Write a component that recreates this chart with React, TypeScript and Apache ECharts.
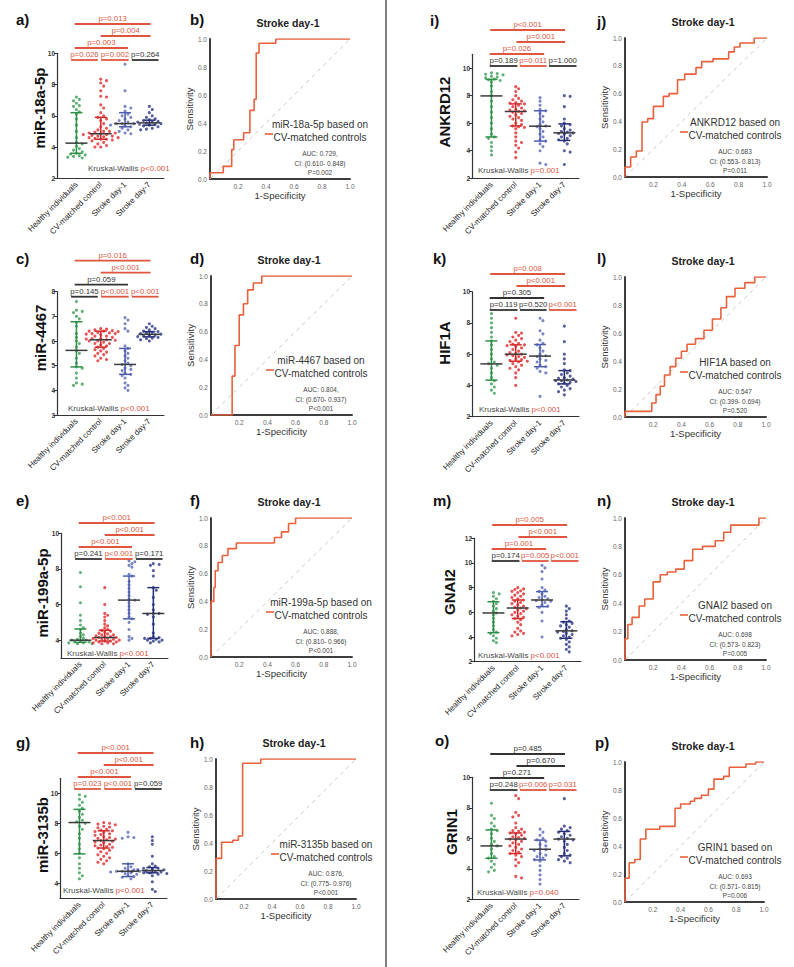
import React, { useEffect, useRef } from "react";
import * as echarts from "echarts";

const FONT = '"Liberation Sans", Arial, Helvetica, sans-serif';

const GROUP_NAMES = ["Healthy individuals", "CV-matched control", "Stroke day-1", "Stroke day-7"];
const DOT_COLORS = ["#3b9b55", "#e2292b", "#5a68b4", "#2c3683"];
const BAR_COLORS = ["#2f8f48", "#d42a2a", "#4d5cad", "#262f7a"];
const MEDIAN_COLOR = "#3b3b3b";
const SIG_RED = "#e0553d";
const NS_DARK = "#333333";
const ROC_RED = "#e8603c";

// Pairwise comparisons, in the order the p-values are listed: (1,2) (2,3) (3,4) (1,3) (2,4) (1,4)
const BRACKET_LEVEL = [0, 0, 0, 1, 2, 3];

// ---------- miR-18a-5p ----------
const mir18aHealthy = [7.2, 7.05, 6.95, 6.8, 6.65, 6.6, 6.4, 6.25, 6.1, 5.8, 5.4, 5.0, 4.6, 4.3, 4.2, 4.05, 3.9, 3.8, 3.7, 3.6, 3.55, 3.5, 3.45, 3.4, 3.35, 3.3];
const mir18aCv = [8.35, 8.25, 8.1, 7.9, 7.6, 7.25, 7.2, 6.7, 6.5, 6.2, 6.0, 5.9, 5.8, 5.7, 5.5, 5.3, 5.2, 5.1, 5.0, 5.0, 4.95, 4.9, 4.9, 4.85, 4.8, 4.8, 4.75, 4.7, 4.7, 4.65, 4.6, 4.6, 4.55, 4.5, 4.5, 4.45, 4.4, 4.3, 4.2, 4.1, 4.0, 4.0];
const mir18aDay1 = [9.3, 7.6, 6.6, 6.5, 6.3, 6.1, 6.0, 5.9, 5.8, 5.7, 5.6, 5.5, 5.5, 5.5, 5.45, 5.4, 5.35, 5.3, 5.2, 5.1, 5.0, 4.9, 4.85];
const mir18aDay7 = [6.6, 6.4, 6.2, 6.0, 5.9, 5.8, 5.75, 5.7, 5.65, 5.6, 5.6, 5.55, 5.5, 5.5, 5.45, 5.4, 5.35, 5.3, 5.2, 5.15, 5.1];
const mir18aMedian = [4.25, 4.85, 5.5, 5.55];
const mir18aQ1 = [3.6, 4.5, 5.3, 5.4];
const mir18aQ3 = [6.2, 5.9, 6.2, 5.72];
const mir18aP = ["p=0.026", "p=0.002", "p=0.264", "p=0.003", "p=0.004", "p=0.013"];
const mir18aKW = "p<0.001";
const mir18aTicks = [2, 4, 6, 8, 10];

// ---------- miR-4467 ----------
const mir4467Healthy = [7.6, 7.25, 7.2, 7.15, 7.0, 6.9, 6.75, 6.6, 6.3, 6.15, 6.0, 5.9, 5.75, 5.6, 5.5, 5.3, 5.1, 4.95, 4.9, 4.7, 4.5, 4.3, 4.25, 4.2];
const mir4467Cv = [6.5, 6.48, 6.45, 6.42, 6.4, 6.4, 6.38, 6.35, 6.33, 6.3, 6.3, 6.28, 6.25, 6.2, 6.2, 6.15, 6.1, 6.1, 6.08, 6.05, 6.03, 6.0, 6.0, 5.95, 5.9, 5.9, 5.85, 5.8, 5.75, 5.7, 5.65, 5.6, 5.55, 5.5, 5.45, 5.4, 5.3, 5.25, 5.2];
const mir4467Day1 = [6.95, 6.85, 6.7, 6.5, 6.4, 5.8, 5.7, 5.6, 5.5, 5.4, 5.3, 5.2, 5.1, 5.05, 5.0, 4.9, 4.85, 4.8, 4.7, 4.65, 4.6, 4.5, 4.3, 4.2, 4.1, 4.0];
const mir4467Day7 = [6.7, 6.6, 6.55, 6.5, 6.45, 6.4, 6.38, 6.35, 6.32, 6.3, 6.28, 6.25, 6.22, 6.2, 6.18, 6.15, 6.12, 6.1, 6.05, 6.0];
const mir4467Median = [5.62, 6.05, 5.05, 6.27];
const mir4467Q1 = [4.95, 5.75, 4.65, 6.17];
const mir4467Q3 = [6.78, 6.4, 5.7, 6.38];
const mir4467P = ["p=0.145", "p<0.001", "p<0.001", "p=0.059", "p<0.001", "p=0.016"];
const mir4467KW = "p<0.001";
const mir4467Ticks = [3, 4, 5, 6, 7, 8];

// ---------- miR-199a-5p ----------
const mir199aHealthy = [7.8, 7.0, 6.1, 5.4, 5.1, 4.85, 4.7, 4.6, 4.4, 4.3, 4.2, 4.1, 4.05, 4.0, 4.0, 3.95, 3.9, 3.9, 3.85, 3.85, 3.8, 3.8];
const mir199aCv = [6.95, 6.0, 5.5, 5.4, 5.3, 5.1, 4.9, 4.8, 4.7, 4.6, 4.55, 4.5, 4.45, 4.4, 4.35, 4.3, 4.3, 4.25, 4.2, 4.2, 4.15, 4.15, 4.1, 4.1, 4.05, 4.05, 4.0, 4.0, 3.95, 3.95, 3.9, 3.9, 3.85, 3.85, 3.8, 3.8];
const mir199aDay1 = [8.45, 8.4, 8.3, 8.2, 8.1, 7.7, 7.6, 7.3, 7.1, 6.9, 6.7, 6.5, 6.3, 6.25, 6.1, 5.9, 5.7, 5.5, 5.3, 5.2, 5.0, 4.6, 4.2, 4.1, 4.0];
const mir199aDay7 = [8.3, 8.25, 8.2, 7.9, 7.6, 6.95, 6.8, 6.4, 6.0, 5.7, 5.5, 5.5, 5.45, 5.3, 4.9, 4.4, 4.2, 4.15, 4.1, 4.1, 4.05, 4.0, 4.0, 3.95, 3.9, 3.85];
const mir199aMedian = [4.0, 4.15, 6.25, 5.5];
const mir199aQ1 = [3.88, 3.95, 5.2, 4.1];
const mir199aQ3 = [4.63, 4.56, 7.6, 6.95];
const mir199aP = ["p=0.241", "p<0.001", "p=0.171", "p<0.001", "p<0.001", "p<0.001"];
const mir199aKW = "p<0.001";
const mir199aTicks = [4, 6, 8, 10];

// ---------- miR-3135b ----------
const mir3135bHealthy = [9.9, 9.8, 9.6, 9.4, 9.2, 9.0, 8.8, 8.6, 8.4, 8.2, 8.1, 8.0, 7.8, 7.6, 7.3, 7.0, 6.6, 6.3, 6.0, 5.7, 5.3, 5.0, 4.7, 4.5, 4.3];
const mir3135bCv = [8.05, 8.0, 7.95, 7.9, 7.8, 7.75, 7.7, 7.6, 7.55, 7.5, 7.45, 7.4, 7.3, 7.25, 7.2, 7.1, 7.05, 7.0, 6.95, 6.9, 6.85, 6.8, 6.75, 6.7, 6.6, 6.55, 6.5, 6.45, 6.4, 6.35, 6.3, 6.2, 6.1, 6.0, 5.9, 5.8, 5.7, 5.6, 5.5, 5.4, 5.3];
const mir3135bDay1 = [7.4, 7.1, 7.05, 7.0, 5.3, 5.1, 5.0, 4.9, 4.85, 4.8, 4.8, 4.8, 4.75, 4.75, 4.7, 4.7, 4.65, 4.6, 4.5, 4.45, 4.4, 4.3];
const mir3135bDay7 = [7.1, 6.85, 6.6, 5.8, 5.3, 5.15, 5.1, 5.0, 5.0, 4.95, 4.9, 4.9, 4.85, 4.85, 4.8, 4.8, 4.75, 4.7, 4.7, 4.65, 4.6, 4.5, 4.1, 3.6, 3.45];
const mir3135bMedian = [8.05, 6.85, 4.8, 4.85];
const mir3135bQ1 = [5.96, 6.35, 4.45, 4.7];
const mir3135bQ3 = [8.93, 7.5, 5.3, 5.05];
const mir3135bP = ["p=0.023", "p<0.001", "p=0.059", "p<0.001", "p<0.001", "p<0.001"];
const mir3135bKW = "p<0.001";
const mir3135bTicks = [4, 6, 8, 10];

// ---------- ANKRD12 ----------
const ankrd12Healthy = [9.65, 9.6, 9.55, 9.5, 9.4, 9.35, 9.3, 9.2, 9.15, 9.1, 9.0, 8.7, 8.3, 8.0, 7.6, 7.2, 6.8, 6.4, 6.0, 5.6, 5.2, 5.0, 4.9, 4.6, 4.3, 4.0, 3.7];
const ankrd12Cv = [8.65, 8.5, 8.3, 8.0, 7.8, 7.7, 7.6, 7.5, 7.45, 7.4, 7.3, 7.2, 7.1, 7.0, 6.95, 6.9, 6.85, 6.8, 6.7, 6.6, 6.5, 6.4, 6.3, 6.2, 6.0, 5.9, 5.8, 5.75, 5.7, 5.6, 5.3, 5.0, 4.7, 4.6, 4.4, 4.2, 3.9, 3.5];
const ankrd12Day1 = [7.85, 7.6, 7.3, 7.0, 6.9, 6.7, 6.5, 6.3, 6.1, 5.9, 5.8, 5.75, 5.6, 5.4, 5.2, 5.0, 4.8, 4.7, 4.5, 4.3, 4.0, 3.1, 3.0];
const ankrd12Day7 = [8.0, 7.95, 7.2, 6.3, 6.0, 5.9, 5.8, 5.6, 5.5, 5.4, 5.35, 5.3, 5.25, 5.2, 5.1, 5.0, 4.9, 4.8, 4.7, 4.5, 4.0, 3.9, 3.0];
const ankrd12Median = [7.98, 6.85, 5.78, 5.3];
const ankrd12Q1 = [5.0, 5.8, 4.7, 4.75];
const ankrd12Q3 = [9.18, 7.4, 6.9, 5.95];
const ankrd12P = ["p=0.189", "p=0.011", "p=1.000", "p=0.026", "p=0.001", "p<0.001"];
const ankrd12KW = "p=0.001";
const ankrd12Ticks = [2, 4, 6, 8, 10];

// ---------- HIF1A ----------
const hif1aHealthy = [8.6, 8.3, 8.0, 7.7, 7.4, 7.1, 6.85, 6.6, 6.3, 6.0, 5.7, 5.5, 5.4, 5.3, 5.1, 4.8, 4.5, 4.3, 4.1, 3.9, 3.7, 3.5];
const hif1aCv = [8.3, 7.4, 7.35, 7.2, 7.1, 7.0, 6.9, 6.8, 6.7, 6.65, 6.6, 6.55, 6.5, 6.4, 6.3, 6.2, 6.1, 6.05, 6.0, 5.95, 5.9, 5.85, 5.8, 5.7, 5.65, 5.6, 5.55, 5.5, 5.4, 5.3, 5.2, 5.1, 5.0, 4.8, 4.5, 4.0];
const hif1aDay1 = [8.3, 8.15, 7.5, 7.3, 6.9, 6.7, 6.6, 6.4, 6.2, 6.0, 5.9, 5.85, 5.7, 5.6, 5.5, 5.3, 5.2, 5.1, 4.9, 4.8, 3.3];
const hif1aDay7 = [7.8, 6.8, 6.0, 5.7, 5.4, 5.0, 4.95, 4.8, 4.7, 4.6, 4.5, 4.45, 4.4, 4.35, 4.3, 4.3, 4.25, 4.2, 4.15, 4.1, 4.0, 3.9, 3.8, 3.7, 3.6, 3.4];
const hif1aMedian = [5.38, 6.0, 5.88, 4.35];
const hif1aQ1 = [4.34, 5.55, 5.2, 4.1];
const hif1aQ3 = [6.85, 6.6, 6.62, 4.95];
const hif1aP = ["p=0.119", "p=0.520", "p<0.001", "p=0.305", "p<0.001", "p=0.008"];
const hif1aKW = "p<0.001";
const hif1aTicks = [2, 4, 6, 8, 10];

// ---------- GNAI2 ----------
const gnai2Healthy = [7.6, 7.5, 7.3, 7.1, 6.9, 6.7, 6.5, 6.3, 6.1, 5.95, 5.8, 5.5, 5.2, 4.9, 4.6, 4.4, 4.3, 4.1, 3.9, 3.7, 3.55];
const gnai2Cv = [8.0, 7.9, 7.85, 7.75, 7.7, 7.6, 7.5, 7.4, 7.3, 7.2, 7.1, 7.0, 6.9, 6.8, 6.7, 6.6, 6.5, 6.4, 6.35, 6.3, 6.2, 6.1, 6.0, 5.9, 5.8, 5.7, 5.6, 5.5, 5.4, 5.2, 5.0, 4.7, 4.5, 4.4, 4.3, 4.2, 4.1];
const gnai2Day1 = [9.8, 9.6, 9.3, 8.7, 8.0, 7.8, 7.7, 7.5, 7.3, 7.2, 7.1, 7.0, 6.95, 6.9, 6.8, 6.6, 6.5, 6.4, 6.0, 5.3, 4.0];
const gnai2Day7 = [6.5, 6.3, 6.1, 5.8, 5.5, 5.3, 5.2, 5.1, 5.0, 4.9, 4.8, 4.6, 4.5, 4.45, 4.4, 4.3, 4.2, 4.1, 4.0, 3.9, 3.8, 3.6, 3.4, 3.2, 3.0, 2.8];
const gnai2Median = [5.95, 6.35, 7.0, 4.5];
const gnai2Q1 = [4.35, 5.5, 6.46, 3.9];
const gnai2Q3 = [6.86, 7.0, 7.68, 5.24];
const gnai2P = ["p=0.174", "p=0.005", "p<0.001", "p=0.001", "p<0.001", "p=0.005"];
const gnai2KW = "p<0.001";
const gnai2Ticks = [2, 4, 6, 8, 10, 12];

// ---------- GRIN1 ----------
const grin1Healthy = [8.3, 7.5, 7.3, 7.0, 6.8, 6.6, 6.5, 6.3, 6.0, 5.8, 5.6, 5.5, 5.3, 5.0, 4.8, 4.7, 4.5, 4.3, 4.1, 3.9, 3.8];
const grin1Cv = [8.8, 8.6, 7.7, 7.5, 7.4, 7.0, 6.7, 6.6, 6.5, 6.45, 6.4, 6.35, 6.3, 6.2, 6.1, 6.05, 6.0, 5.95, 5.9, 5.8, 5.7, 5.6, 5.5, 5.4, 5.3, 5.2, 5.1, 5.0, 4.9, 4.8, 4.6, 4.4, 4.2, 3.5, 3.4];
const grin1Day1 = [6.6, 6.4, 6.2, 6.0, 5.9, 5.8, 5.6, 5.5, 5.3, 5.25, 5.2, 5.0, 4.9, 4.8, 4.7, 4.6, 4.5, 4.2, 3.9, 3.6, 3.3, 3.0];
const grin1Day7 = [8.6, 6.8, 6.7, 6.6, 6.5, 6.4, 6.3, 6.2, 6.1, 6.0, 5.95, 5.9, 5.8, 5.6, 5.4, 5.2, 5.0, 4.9, 4.8, 4.7, 4.6, 4.5, 4.4];
const grin1Median = [5.5, 5.95, 5.28, 5.95];
const grin1Q1 = [4.69, 5.0, 4.58, 4.85];
const grin1Q3 = [6.55, 6.35, 5.88, 6.45];
const grin1P = ["p=0.248", "p=0.006", "p=0.031", "p=0.271", "p=0.670", "p=0.485"];
const grin1KW = "p=0.040";
const grin1Ticks = [2, 4, 6, 8, 10];

// ---------- ROC curves, Stroke day-1 vs CV-matched controls (corner points) ----------
const rocMir18aFpr = [0, 0, 0.095, 0.095, 0.155, 0.155, 0.17, 0.17, 0.24, 0.24, 0.285, 0.285, 0.315, 0.315, 0.33, 0.33, 0.35, 0.35, 0.47, 0.47, 1];
const rocMir18aTpr = [0, 0.045, 0.045, 0.09, 0.09, 0.21, 0.21, 0.28, 0.28, 0.33, 0.33, 0.49, 0.49, 0.57, 0.57, 0.9, 0.9, 0.97, 0.97, 1, 1];
const rocMir4467Fpr = [0, 0.15, 0.15, 0.17, 0.17, 0.2, 0.2, 0.23, 0.23, 0.26, 0.26, 0.3, 0.3, 0.36, 0.36, 1];
const rocMir4467Tpr = [0, 0, 0.28, 0.28, 0.5, 0.5, 0.72, 0.72, 0.8, 0.8, 0.9, 0.9, 0.95, 0.95, 1, 1];
const rocMir199aFpr = [0, 0, 0.02, 0.02, 0.03, 0.03, 0.05, 0.05, 0.08, 0.08, 0.12, 0.12, 0.18, 0.18, 0.45, 0.45, 0.5, 0.5, 0.55, 0.55, 0.6, 0.6, 1];
const rocMir199aTpr = [0, 0.4, 0.4, 0.5, 0.5, 0.62, 0.62, 0.68, 0.68, 0.73, 0.73, 0.78, 0.78, 0.82, 0.82, 0.86, 0.86, 0.9, 0.9, 0.96, 0.96, 1, 1];
const rocMir3135bFpr = [0, 0, 0.04, 0.04, 0.12, 0.12, 0.16, 0.16, 0.19, 0.19, 0.32, 0.32, 1];
const rocMir3135bTpr = [0, 0.29, 0.29, 0.405, 0.405, 0.42, 0.42, 0.45, 0.45, 0.97, 0.97, 1, 1];
const rocAnkrd12Fpr = [0, 0, 0.04, 0.04, 0.08, 0.08, 0.12, 0.12, 0.16, 0.16, 0.2, 0.2, 0.27, 0.27, 0.31, 0.31, 0.37, 0.37, 0.42, 0.42, 0.5, 0.5, 0.54, 0.54, 0.62, 0.62, 0.73, 0.73, 0.77, 0.77, 0.81, 0.81, 0.91, 0.91, 1];
const rocAnkrd12Tpr = [0, 0.072, 0.072, 0.144, 0.144, 0.187, 0.187, 0.396, 0.396, 0.42, 0.42, 0.508, 0.508, 0.58, 0.58, 0.6, 0.6, 0.7, 0.7, 0.74, 0.74, 0.787, 0.787, 0.83, 0.83, 0.85, 0.85, 0.9, 0.9, 0.935, 0.935, 0.964, 0.964, 1, 1];
const rocHif1aFpr = [0, 0, 0.19, 0.19, 0.22, 0.22, 0.25, 0.25, 0.28, 0.28, 0.32, 0.32, 0.36, 0.36, 0.4, 0.4, 0.44, 0.44, 0.5, 0.5, 0.56, 0.56, 0.62, 0.62, 0.68, 0.68, 0.72, 0.72, 0.78, 0.78, 0.85, 0.85, 0.92, 0.92, 1];
const rocHif1aTpr = [0, 0.04, 0.04, 0.1, 0.1, 0.16, 0.16, 0.22, 0.22, 0.3, 0.3, 0.36, 0.36, 0.42, 0.42, 0.47, 0.47, 0.52, 0.52, 0.56, 0.56, 0.62, 0.62, 0.7, 0.7, 0.78, 0.78, 0.86, 0.86, 0.92, 0.92, 0.96, 0.96, 1, 1];
const rocGnai2Fpr = [0, 0, 0.02, 0.02, 0.05, 0.05, 0.1, 0.1, 0.14, 0.14, 0.2, 0.2, 0.25, 0.25, 0.3, 0.3, 0.36, 0.36, 0.42, 0.42, 0.48, 0.48, 0.55, 0.55, 0.64, 0.64, 0.7, 0.7, 0.75, 0.75, 0.95, 0.95, 1];
const rocGnai2Tpr = [0, 0.15, 0.15, 0.25, 0.25, 0.3, 0.3, 0.38, 0.38, 0.43, 0.43, 0.55, 0.55, 0.6, 0.6, 0.62, 0.62, 0.64, 0.64, 0.7, 0.7, 0.78, 0.78, 0.8, 0.8, 0.84, 0.84, 0.9, 0.9, 0.95, 0.95, 1, 1];
const rocGrin1Fpr = [0, 0, 0.03, 0.03, 0.07, 0.07, 0.11, 0.11, 0.15, 0.15, 0.25, 0.25, 0.36, 0.36, 0.4, 0.4, 0.47, 0.47, 0.5, 0.5, 0.55, 0.55, 0.6, 0.6, 0.64, 0.64, 0.71, 0.71, 0.75, 0.75, 0.87, 0.87, 0.94, 0.94, 1];
const rocGrin1Tpr = [0, 0.17, 0.17, 0.28, 0.28, 0.304, 0.304, 0.45, 0.45, 0.52, 0.52, 0.54, 0.54, 0.67, 0.67, 0.7, 0.7, 0.72, 0.72, 0.74, 0.74, 0.763, 0.763, 0.806, 0.806, 0.878, 0.878, 0.897, 0.897, 0.962, 0.962, 0.986, 0.986, 1, 1];

const ROC_TICKS = [0, 0.2, 0.4, 0.6, 0.8, 1.0];

// ---------- layout ----------
const X_MIN = 0.2;
const X_MAX = 4.6;
const CAT_PX = 24.3;
// bracket spans (category units) for left-column and right-column dot plots
const LEFT_SPANS = [[0.78, 1.88], [2.02, 3.15], [3.28, 4.38], [0.93, 3.12], [2.0, 4.05], [0.93, 4.05]];
const RIGHT_SPANS = [[0.93, 2.07], [2.17, 3.27], [3.37, 4.5], [0.93, 3.17], [2.03, 4.03], [0.95, 4.03]];

type DotPanel = {
  letter: string; lx: number; ly: number;
  gene: string; nx: number; ny: number;
  groups: number[][]; median: number[]; q1: number[]; q3: number[];
  p: string[]; kw: string; ticks: number[];
  yMin: number; yMax: number;
  left: number; top: number; bottom: number;
  spans: number[][]; bracketBase: number; kwDx: number; kwDy: number;
};

const DOT_PANELS: DotPanel[] = [
  { letter: "a)", lx: 16, ly: 19, gene: "miR-18a-5p", nx: 39, ny: 108,
    groups: [mir18aHealthy, mir18aCv, mir18aDay1, mir18aDay7], median: mir18aMedian, q1: mir18aQ1, q3: mir18aQ3,
    p: mir18aP, kw: mir18aKW, ticks: mir18aTicks, yMin: 2, yMax: 10,
    left: 57, top: 53.3, bottom: 178.3, spans: LEFT_SPANS, bracketBase: 6.7, kwDx: 31, kwDy: -10 },
  { letter: "c)", lx: 16, ly: 258, gene: "miR-4467", nx: 40, ny: 338,
    groups: [mir4467Healthy, mir4467Cv, mir4467Day1, mir4467Day7], median: mir4467Median, q1: mir4467Q1, q3: mir4467Q3,
    p: mir4467P, kw: mir4467KW, ticks: mir4467Ticks, yMin: 3, yMax: 8,
    left: 57, top: 291.7, bottom: 415, spans: LEFT_SPANS, bracketBase: 5, kwDx: 11, kwDy: -7 },
  { letter: "e)", lx: 16, ly: 500, gene: "miR-199a-5p", nx: 42, ny: 593,
    groups: [mir199aHealthy, mir199aCv, mir199aDay1, mir199aDay7], median: mir199aMedian, q1: mir199aQ1, q3: mir199aQ3,
    p: mir199aP, kw: mir199aKW, ticks: mir199aTicks, yMin: 3, yMax: 10,
    left: 61, top: 533.3, bottom: 658, spans: LEFT_SPANS, bracketBase: 25.7, kwDx: 6, kwDy: -5 },
  { letter: "g)", lx: 16, ly: 742, gene: "miR-3135b", nx: 42, ny: 835,
    groups: [mir3135bHealthy, mir3135bCv, mir3135bDay1, mir3135bDay7], median: mir3135bMedian, q1: mir3135bQ1, q3: mir3135bQ3,
    p: mir3135bP, kw: mir3135bKW, ticks: mir3135bTicks, yMin: 3, yMax: 11,
    left: 60, top: 778.3, bottom: 898.3, spans: LEFT_SPANS, bracketBase: 10.7, kwDx: 3, kwDy: -7.5 },
  { letter: "i)", lx: 430, ly: 20, gene: "ANKRD12", nx: 444, ny: 112,
    groups: [ankrd12Healthy, ankrd12Cv, ankrd12Day1, ankrd12Day7], median: ankrd12Median, q1: ankrd12Q1, q3: ankrd12Q3,
    p: ankrd12P, kw: ankrd12KW, ticks: ankrd12Ticks, yMin: 2, yMax: 11,
    left: 472, top: 54.3, bottom: 178.3, spans: RIGHT_SPANS, bracketBase: 11.7, kwDx: 6, kwDy: -7.5 },
  { letter: "k)", lx: 433, ly: 258, gene: "HIF1A", nx: 444, ny: 343,
    groups: [hif1aHealthy, hif1aCv, hif1aDay1, hif1aDay7], median: hif1aMedian, q1: hif1aQ1, q3: hif1aQ3,
    p: hif1aP, kw: hif1aKW, ticks: hif1aTicks, yMin: 2, yMax: 10,
    left: 472, top: 291.7, bottom: 416.7, spans: RIGHT_SPANS, bracketBase: 18.3, kwDx: 7, kwDy: -7.5 },
  { letter: "m)", lx: 433, ly: 500, gene: "GNAI2", nx: 449, ny: 592,
    groups: [gnai2Healthy, gnai2Cv, gnai2Day1, gnai2Day7], median: gnai2Median, q1: gnai2Q1, q3: gnai2Q3,
    p: gnai2P, kw: gnai2KW, ticks: gnai2Ticks, yMin: 2, yMax: 12,
    left: 474, top: 538.3, bottom: 661.7, spans: RIGHT_SPANS, bracketBase: 22.7, kwDx: 4, kwDy: -6 },
  { letter: "o)", lx: 435, ly: 740, gene: "GRIN1", nx: 451, ny: 832,
    groups: [grin1Healthy, grin1Cv, grin1Day1, grin1Day7], median: grin1Median, q1: grin1Q1, q3: grin1Q3,
    p: grin1P, kw: grin1KW, ticks: grin1Ticks, yMin: 2, yMax: 10,
    left: 472, top: 777.3, bottom: 899.3, spans: RIGHT_SPANS, bracketBase: 12.7, kwDx: 5, kwDy: -6.5 },
];

type RocPanel = {
  letter: string; lx: number; ly: number; gene: string;
  fpr: number[]; tpr: number[]; auc: string[];
  left: number; top: number; width: number; height: number;
};

const ROC_PANELS: RocPanel[] = [
  { letter: "b)", lx: 190, ly: 19, gene: "miR-18a-5p", fpr: rocMir18aFpr, tpr: rocMir18aTpr,
    auc: ["AUC: 0.729,", "CI: (0.610- 0.848)", "P=0.002"], left: 210, top: 39, width: 140, height: 140 },
  { letter: "d)", lx: 190, ly: 258, gene: "miR-4467", fpr: rocMir4467Fpr, tpr: rocMir4467Tpr,
    auc: ["AUC: 0.804,", "CI: (0.670- 0.937)", "P<0.001"], left: 211, top: 276, width: 141, height: 139 },
  { letter: "f)", lx: 190, ly: 500, gene: "miR-199a-5p", fpr: rocMir199aFpr, tpr: rocMir199aTpr,
    auc: ["AUC: 0.888,", "CI: (0.810- 0.966)", "P<0.001"], left: 211, top: 518, width: 141, height: 139 },
  { letter: "h)", lx: 190, ly: 742, gene: "miR-3135b", fpr: rocMir3135bFpr, tpr: rocMir3135bTpr,
    auc: ["AUC: 0.876,", "CI: (0.775- 0.976)", "P<0.001"], left: 216, top: 759, width: 140, height: 140 },
  { letter: "j)", lx: 597, ly: 21, gene: "ANKRD12", fpr: rocAnkrd12Fpr, tpr: rocAnkrd12Tpr,
    auc: ["AUC: 0.683", "CI: (0.553- 0.813)", "P=0.011"], left: 625, top: 38, width: 142, height: 139 },
  { letter: "l)", lx: 597, ly: 258, gene: "HIF1A", fpr: rocHif1aFpr, tpr: rocHif1aTpr,
    auc: ["AUC: 0.547", "CI: (0.399- 0.694)", "P=0.520"], left: 625, top: 277, width: 141, height: 140 },
  { letter: "n)", lx: 597, ly: 500, gene: "GNAI2", fpr: rocGnai2Fpr, tpr: rocGnai2Tpr,
    auc: ["AUC: 0.698", "CI: (0.573- 0.823)", "P=0.005"], left: 625, top: 518, width: 141, height: 142 },
  { letter: "p)", lx: 595, ly: 742, gene: "GRIN1", fpr: rocGrin1Fpr, tpr: rocGrin1Tpr,
    auc: ["AUC: 0.693", "CI: (0.571- 0.815)", "P=0.006"], left: 625, top: 762, width: 139, height: 140 },
];

const isSignificant = (p: string) => parseFloat(p.replace(/^p[<=]/i, "")) < 0.05;

// Non-overlapping horizontal placement of dots around their category centre
function swarmOffsets(values: number[], pxPerY: number, pxPerX: number): number[] {
  const dist = 3.4;
  const step = 2.9;
  const order = values.map((_, i) => i).sort((a, b) => values[b] - values[a]);
  const placed: { x: number; y: number }[] = [];
  const out = new Array(values.length).fill(0);
  for (const i of order) {
    const y = values[i] * pxPerY;
    let chosen = 0;
    for (let k = 0; k < 60; k++) {
      const cand = k === 0 ? 0 : (k % 2 ? 1 : -1) * Math.ceil(k / 2) * step;
      if (placed.every((q) => Math.hypot(q.x - cand, q.y - y) >= dist)) {
        chosen = cand;
        break;
      }
    }
    placed.push({ x: chosen, y });
    out[i] = chosen / pxPerX;
  }
  return out;
}

function textEl(x: number, y: number, text: string, font: string, fill: string, align = "left", vAlign = "middle", rotation = 0) {
  return {
    type: "text", x, y, rotation, silent: true,
    style: { text, font, fill, textAlign: align, align, textVerticalAlign: vAlign, verticalAlign: vAlign },
  };
}

function buildOption() {
  const grid: any[] = [];
  const xAxis: any[] = [];
  const yAxis: any[] = [];
  const series: any[] = [];
  const elements: any[] = [];

  elements.push({ type: "line", silent: true, shape: { x1: 386, y1: 0, x2: 386, y2: 967 }, style: { stroke: "#555", lineWidth: 1.5 } });

  DOT_PANELS.forEach((p, k) => {
    const width = (X_MAX - X_MIN) * CAT_PX;
    const height = p.bottom - p.top;
    grid.push({ left: p.left, top: p.top, width, height });
    xAxis.push({
      type: "value", gridIndex: k, min: X_MIN, max: X_MAX,
      axisLine: { show: true, lineStyle: { color: "#333", width: 1.2 } },
      axisTick: { show: false }, splitLine: { show: false },
      axisLabel: {
        customValues: [1, 2, 3, 4], formatter: (v: number) => GROUP_NAMES[Math.round(v) - 1] || "",
        rotate: 45, fontSize: 8, color: "#222", margin: 5, fontFamily: FONT,
      },
    });
    yAxis.push({
      type: "value", gridIndex: k, min: p.yMin, max: p.yMax,
      axisLine: { show: true, lineStyle: { color: "#333", width: 1.2 } },
      axisTick: { show: true, customValues: p.ticks, length: 3, lineStyle: { color: "#333", width: 1 } },
      axisLabel: { customValues: p.ticks, fontSize: 6.5, fontWeight: "bold", color: "#333", margin: 2, fontFamily: FONT },
      splitLine: { show: false },
    });

    const pxPerY = height / (p.yMax - p.yMin);
    p.groups.forEach((vals, g) => {
      const offs = swarmOffsets(vals, pxPerY, CAT_PX);
      series.push({
        type: "scatter", xAxisIndex: k, yAxisIndex: k, symbol: "circle", symbolSize: 3.1, z: 2,
        itemStyle: { color: DOT_COLORS[g] }, silent: true,
        data: vals.map((v, i) => [g + 1 + offs[i], v]),
      });
    });

    // median with interquartile range
    series.push({
      type: "custom", xAxisIndex: k, yAxisIndex: k, z: 5, silent: true, clip: false,
      data: p.median.map((m, g) => [g + 1, m, p.q1[g], p.q3[g], g]),
      renderItem: (_params: any, api: any) => {
        const g = api.value(4);
        const pm = api.coord([api.value(0), api.value(1)]);
        const pl = api.coord([api.value(0), api.value(2)]);
        const ph = api.coord([api.value(0), api.value(3)]);
        const c = BAR_COLORS[g];
        const x = pm[0];
        return {
          type: "group",
          children: [
            { type: "line", shape: { x1: x, y1: pl[1], x2: x, y2: ph[1] }, style: { stroke: c, lineWidth: 1.5 } },
            { type: "line", shape: { x1: x - 6, y1: pl[1], x2: x + 6, y2: pl[1] }, style: { stroke: c, lineWidth: 1.5 } },
            { type: "line", shape: { x1: x - 6, y1: ph[1], x2: x + 6, y2: ph[1] }, style: { stroke: c, lineWidth: 1.5 } },
            { type: "line", shape: { x1: x - 11, y1: pm[1], x2: x + 11, y2: pm[1] }, style: { stroke: MEDIAN_COLOR, lineWidth: 1.5 } },
          ],
        };
      },
    });

    // pairwise comparison bars with p-values
    series.push({
      type: "custom", xAxisIndex: k, yAxisIndex: k, z: 6, silent: true, clip: false,
      data: p.spans.map((s, i) => [s[0], s[1], 0, i]),
      renderItem: (_params: any, api: any) => {
        const i = api.value(3);
        const a = api.coord([api.value(0), p.yMax]);
        const b = api.coord([api.value(1), p.yMax]);
        const y = a[1] + p.bracketBase - BRACKET_LEVEL[i] * 12;
        const txt = p.p[i];
        const col = isSignificant(txt) ? SIG_RED : NS_DARK;
        return {
          type: "group",
          children: [
            { type: "line", shape: { x1: a[0], y1: y, x2: b[0], y2: y }, style: { stroke: col, lineWidth: 1.8 } },
            {
              type: "text", x: (a[0] + b[0]) / 2, y: y - 1.5,
              style: { text: txt, fill: col, font: `7.8px ${FONT}`, textAlign: "center", align: "center", textVerticalAlign: "bottom", verticalAlign: "bottom" },
            },
          ],
        };
      },
    });

    elements.push(textEl(p.lx, p.ly, p.letter, `bold 15px ${FONT}`, "#111"));
    elements.push(textEl(p.nx, p.ny, p.gene, `bold 15px ${FONT}`, "#111", "center", "middle", Math.PI / 2));
    elements.push({
      type: "text", x: p.left + p.kwDx, y: p.bottom + p.kwDy, silent: true,
      style: {
        text: `{k|Kruskal-Wallis }{v|${p.kw}}`,
        textAlign: "left", align: "left", textVerticalAlign: "middle", verticalAlign: "middle",
        rich: {
          k: { fill: "#4a4a4a", fontSize: 8, fontFamily: FONT },
          v: { fill: isSignificant(p.kw) ? SIG_RED : NS_DARK, fontSize: 8, fontFamily: FONT },
        },
      },
    });
  });

  ROC_PANELS.forEach((r, j) => {
    const k = DOT_PANELS.length + j;
    grid.push({ left: r.left, top: r.top, width: r.width, height: r.height });
    const axisCommon = {
      type: "value", gridIndex: k, min: 0, max: 1,
      axisLine: { show: true, lineStyle: { color: "#3d3d3d", width: 2 } },
      axisTick: { show: false }, splitLine: { show: false },
      nameLocation: "middle",
      nameTextStyle: { fontSize: 9.5, color: "#333", fontFamily: FONT },
    };
    xAxis.push({
      ...axisCommon, name: "1-Specificity", nameGap: 11,
      axisLabel: { customValues: ROC_TICKS, formatter: (v: number) => (v === 0 ? "" : v.toFixed(1)), fontSize: 6.5, color: "#666", margin: 4, fontFamily: FONT },
    });
    yAxis.push({
      ...axisCommon, name: "Sensitivity", nameGap: 13,
      axisLabel: { customValues: ROC_TICKS, formatter: (v: number) => v.toFixed(1), fontSize: 6.5, color: "#666", margin: 3, fontFamily: FONT },
    });
    series.push({
      type: "line", xAxisIndex: k, yAxisIndex: k, silent: true, showSymbol: false, z: 2,
      lineStyle: { color: "#c9c9c9", width: 1, type: [4, 4] },
      data: [[0, 0], [1, 1]],
    });
    series.push({
      type: "line", xAxisIndex: k, yAxisIndex: k, silent: true, showSymbol: false, z: 3,
      lineStyle: { color: ROC_RED, width: 1.6 },
      data: r.fpr.map((x, i) => [x, r.tpr[i]]),
    });

    const bottom = r.top + r.height;
    const cx = r.left + 110;
    elements.push(textEl(r.lx, r.ly, r.letter, `bold 15px ${FONT}`, "#111"));
    elements.push(textEl(r.left + 78, r.top - 15.7, "Stroke day-1", `bold 10.5px ${FONT}`, "#222", "center"));
    elements.push({ type: "line", silent: true, shape: { x1: r.left + 55, y1: bottom - 45, x2: r.left + 63, y2: bottom - 45 }, style: { stroke: ROC_RED, lineWidth: 1.6 } });
    elements.push(textEl(cx, bottom - 55, `${r.gene} based on`, `10px ${FONT}`, "#333", "center"));
    elements.push(textEl(cx, bottom - 41.5, "CV-matched controls", `10px ${FONT}`, "#333", "center"));
    r.auc.forEach((t, i) => {
      elements.push(textEl(cx, bottom - 25.5 + i * 9.5, t, `6.5px ${FONT}`, "#444", "center"));
    });
  });

  return {
    animation: false,
    backgroundColor: "#ffffff",
    textStyle: { fontFamily: FONT },
    grid, xAxis, yAxis, series,
    graphic: { elements },
  };
}

export default function App() {
  const ref = useRef<HTMLDivElement>(null);
  useEffect(() => {
    document.body.style.margin = "0";
    if (!ref.current) return;
    const chart = echarts.init(ref.current, null, { renderer: "svg" });
    chart.setOption(buildOption() as any);
    return () => chart.dispose();
  }, []);
  return <div ref={ref} style={{ width: 794, height: 967, background: "#fff" }} />;
}
